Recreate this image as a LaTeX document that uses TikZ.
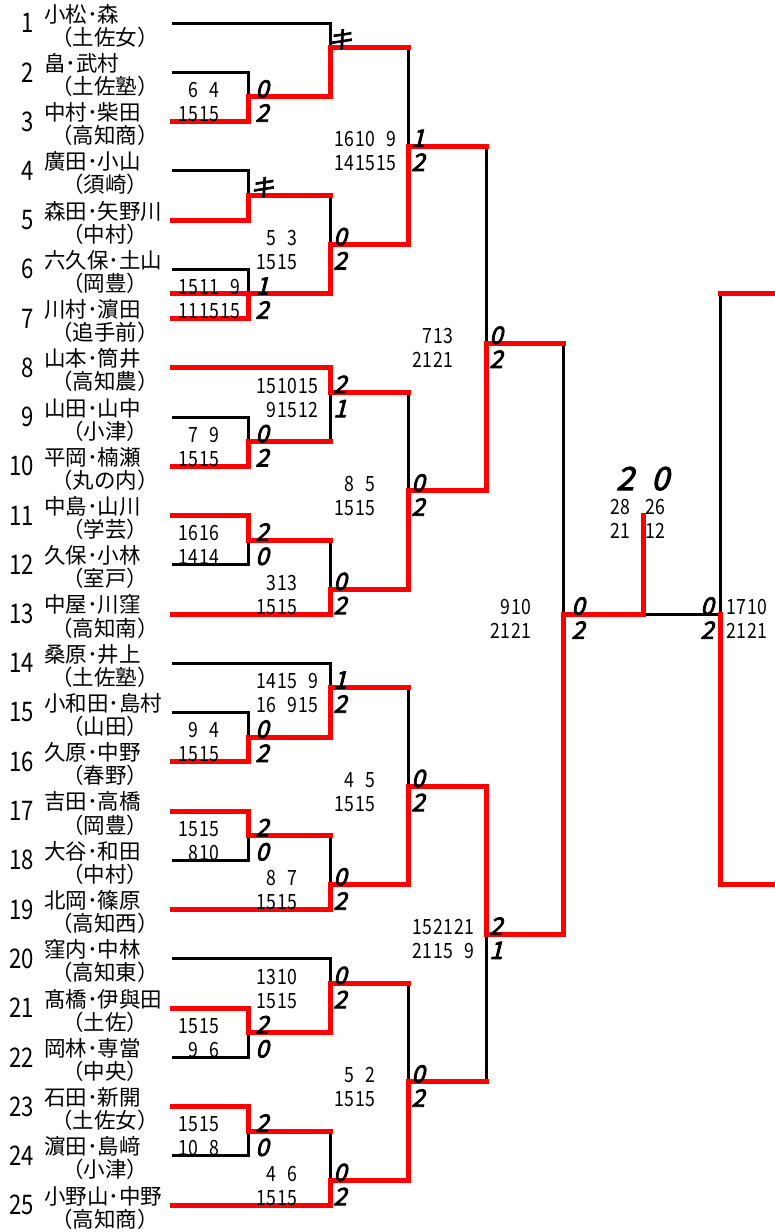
\documentclass[tikz,border=0pt]{standalone}
\usepackage{graphicx}
\usepackage{fontspec}
\setmainfont{Noto Sans CJK JP}
\newfontfamily\resfont[FakeSlant=0.25,FakeBold=3]{Noto Sans CJK JP}
% one game (two digits), right aligned in its column
\newcommand\gm[1]{\makebox[21pt][r]{\scalebox{0.84}[1]{#1}}}
% scores and results of one match
\newcommand\scorepair[8]{%
  \node[score] (#1-t) at (#2,#4-0.12) {#5};
  \node[score] (#1-b) at (#2,#4+0.86) {#6};
  \node[res] (#1-rt) at (#3,#4-0.12) {#7};
  \node[res] (#1-rb) at (#3,#4+0.86) {#8};}
\tikzset{
  black line/.style={line width=3pt},
  red line/.style={line width=5pt, red, line cap=rect},
  pseed/.style={anchor=east, inner sep=0pt, font=\fontsize{27}{27}\selectfont},
  pname/.style={anchor=west, inner sep=0pt, font=\fontsize{21.5}{21.5}\selectfont},
  pschool/.style={inner sep=0pt, font=\fontsize{21.5}{21.5}\selectfont},
  score/.style={anchor=west, inner sep=0pt, text height=0.72em, text depth=0pt,
    font=\fontsize{21}{21}\selectfont},
  res/.style={inner sep=0pt, text height=0.72em, text depth=0pt,
    font=\resfont\fontsize{24}{24}\selectfont},
}
\begin{document}
\begin{tikzpicture}[x=1pt, y=-24.625pt]
\useasboundingbox (0,-0.934) rectangle (775,49.096);
\fill[white] (0,-0.934) rectangle (775,49.096);

% players
\foreach \n/\nm/\sch in {1/小松･森/土佐女, 2/畠･武村/土佐塾, 3/中村･柴田/高知商,
  4/廣田･小山/須崎, 5/森田･矢野川/中村, 6/六久保･土山/岡豊, 7/川村･濵田/追手前,
  8/山本･筒井/高知農, 9/山田･山中/小津, 10/平岡･楠瀬/丸の内, 11/中島･山川/学芸,
  12/久保･小林/室戸, 13/中屋･川窪/高知南, 14/桑原･井上/土佐塾, 15/小和田･島村/山田,
  16/久原･中野/春野, 17/吉田･高橋/岡豊, 18/大谷･和田/中村, 19/北岡･篠原/高知西,
  20/窪内･中林/高知東, 21/髙橋･伊與田/土佐, 22/岡林･専當/中央, 23/石田･新開/土佐女,
  24/濵田･島﨑/小津, 25/小野山･中野/高知商} {
  \pgfmathsetmacro\r{2*(\n-1)}
  \node[pseed] (s\n) at (34,\r) {\scalebox{0.82}[1]{\n}};
  \node[pname] (p\n) at (44,\r-0.37) {\nm};
  \node[pschool] (c\n) at (105,\r+0.57) {（\sch）};
}

% black lines
\draw[black line] (172,0) -| (330,1);
\draw[black line] (172,2) -| (248,3);
\draw[black line] (408,1) -- (408,5);
\draw[black line] (172,6) -| (248,7);
\draw[black line] (330,7) -- (330,9);
\draw[black line] (172,10) -| (248,11);
\draw[black line] (486,5) -- (486,13);
\draw[black line] (330,15) -- (330,17);
\draw[black line] (172,16) -| (248,17);
\draw[black line] (408,15) -- (408,19);
\draw[black line] (172,22) -| (248,21);
\draw[black line] (330,21) -- (330,23);
\draw[black line] (563,13) -- (563,24);
\draw[black line] (172,26) -| (330,27);
\draw[black line] (172,28) -| (248,29);
\draw[black line] (408,27) -- (408,31);
\draw[black line] (172,34) -| (248,33);
\draw[black line] (330,33) -- (330,35);
\draw[black line] (486,37) -- (486,43);
\draw[black line] (172,38) -| (330,39);
\draw[black line] (172,42) -| (248,41);
\draw[black line] (408,39) -- (408,43);
\draw[black line] (172,46) -| (248,45);
\draw[black line] (330,45) -- (330,47);
\draw[black line] (720,11) -- (720,24) -- (643,24);

% winners
\draw[red line] (172,4) -| (248,3) -| (330,1) -- (408,1);
\draw[red line] (172,8) -| (248,7) -- (330,7);
\draw[red line] (172,11) -- (248,11);
\draw[red line] (172,12) -| (248,11) -| (330,9) -| (408,5) -- (486,5);
\draw[red line] (172,14) -| (330,15) -- (408,15);
\draw[red line] (172,18) -| (248,17) -- (330,17);
\draw[red line] (172,20) -| (248,21) -- (330,21);
\draw[red line] (172,24) -| (330,23) -| (408,19) -| (486,13) -- (563,13);
\draw[red line] (172,30) -| (248,29) -| (330,27) -- (408,27);
\draw[red line] (172,32) -| (248,33) -- (330,33);
\draw[red line] (172,36) -| (330,35) -| (408,31) -| (486,37) -| (563,24) -| (643,20);
\draw[red line] (172,40) -| (248,41) -| (330,39) -- (408,39);
\draw[red line] (172,44) -| (248,45) -- (330,45);
\draw[red line] (172,48) -| (330,47) -| (408,43) -- (486,43);
\draw[red line] (775,11) -- (720,11);
\draw[red line] (775,35) -| (720,24);

% 1st round
\scorepair{m2}{177}{262}{3}{\gm{6}\gm{4}}{\gm{15}\gm{15}}{0}{2}
\scorepair{m4}{177}{262}{7}{}{}{キ}{}
\scorepair{m6}{177}{262}{11}{\gm{15}\gm{11}\gm{9}}{\gm{11}\gm{15}\gm{15}}{1}{2}
\scorepair{m9}{177}{262}{17}{\gm{7}\gm{9}}{\gm{15}\gm{15}}{0}{2}
\scorepair{m11}{177}{262}{21}{\gm{16}\gm{16}}{\gm{14}\gm{14}}{2}{0}
\scorepair{m15}{177}{262}{29}{\gm{9}\gm{4}}{\gm{15}\gm{15}}{0}{2}
\scorepair{m17}{177}{262}{33}{\gm{15}\gm{15}}{\gm{8}\gm{10}}{2}{0}
\scorepair{m21}{177}{262}{41}{\gm{15}\gm{15}}{\gm{9}\gm{6}}{2}{0}
\scorepair{m23}{177}{262}{45}{\gm{15}\gm{15}}{\gm{10}\gm{8}}{2}{0}

% 2nd round
\scorepair{n1}{255}{340}{1}{}{}{キ}{}
\scorepair{n5}{255}{340}{9}{\gm{5}\gm{3}}{\gm{15}\gm{15}}{0}{2}
\scorepair{n8}{255}{340}{15}{\gm{15}\gm{10}\gm{15}}{\gm{9}\gm{15}\gm{12}}{2}{1}
\scorepair{n12}{255}{340}{23}{\gm{3}\gm{13}}{\gm{15}\gm{15}}{0}{2}
\scorepair{n14}{255}{340}{27}{\gm{14}\gm{15}\gm{9}}{\gm{16}\gm{9}\gm{15}}{1}{2}
\scorepair{n18}{255}{340}{35}{\gm{8}\gm{7}}{\gm{15}\gm{15}}{0}{2}
\scorepair{n20}{255}{340}{39}{\gm{13}\gm{10}}{\gm{15}\gm{15}}{0}{2}
\scorepair{n24}{255}{340}{47}{\gm{4}\gm{6}}{\gm{15}\gm{15}}{0}{2}

% 3rd round
\scorepair{q3}{333}{418}{5}{\gm{16}\gm{10}\gm{9}}{\gm{14}\gm{15}\gm{15}}{1}{2}
\scorepair{q10}{333}{418}{19}{\gm{8}\gm{5}}{\gm{15}\gm{15}}{0}{2}
\scorepair{q16}{333}{418}{31}{\gm{4}\gm{5}}{\gm{15}\gm{15}}{0}{2}
\scorepair{q22}{333}{418}{43}{\gm{5}\gm{2}}{\gm{15}\gm{15}}{0}{2}

% quarter and semi finals
\scorepair{s7}{411}{496}{13}{\gm{7}\gm{13}}{\gm{21}\gm{21}}{0}{2}
\scorepair{s19}{411}{496}{37}{\gm{15}\gm{21}\gm{21}}{\gm{21}\gm{15}\gm{9}}{2}{1}
\scorepair{f13}{489}{578}{24}{\gm{9}\gm{10}}{\gm{21}\gm{21}}{0}{2}
\scorepair{fr}{725}{707}{24}{\gm{17}\gm{10}}{\gm{21}\gm{21}}{0}{2}

% final
\node[res, font=\resfont\fontsize{32}{32}\selectfont] (fin-a) at (625,18.82) {2};
\node[res, font=\resfont\fontsize{32}{32}\selectfont] (fin-b) at (660,18.82) {0};
\node[score, anchor=center] (fin-a1) at (620,19.8) {\gm{28}};
\node[score, anchor=center] (fin-b1) at (655,19.8) {\gm{26}};
\node[score, anchor=center] (fin-a2) at (620,20.8) {\gm{21}};
\node[score, anchor=center] (fin-b2) at (655,20.8) {\gm{12}};
\end{tikzpicture}
\end{document}
